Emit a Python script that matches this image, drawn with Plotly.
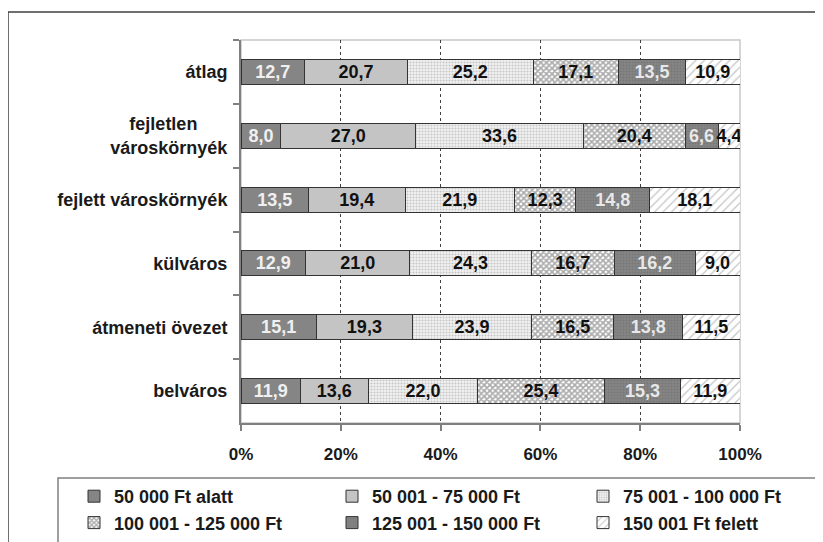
import plotly.graph_objects as go

categories = ["átlag", "fejletlen&nbsp;&nbsp;&nbsp;&nbsp;&nbsp;&nbsp;<br>városkörnyék", "fejlett városkörnyék",
              "külváros", "átmeneti övezet", "belváros"]
series_names = ["50 000 Ft alatt", "50 001 - 75 000 Ft", "75 001 - 100 000 Ft",
                "100 001 - 125 000 Ft", "125 001 - 150 000 Ft", "150 001 Ft felett"]

s1 = [12.7, 8.0, 13.5, 12.9, 15.1, 11.9]
s2 = [20.7, 27.0, 19.4, 21.0, 19.3, 13.6]
s3 = [25.2, 33.6, 21.9, 24.3, 23.9, 22.0]
s4 = [17.1, 20.4, 12.3, 16.7, 16.5, 25.4]
s5 = [13.5, 6.6, 14.8, 16.2, 13.8, 15.3]
s6 = [10.9, 4.4, 18.1, 9.0, 11.5, 11.9]
series_values = [s1, s2, s3, s4, s5, s6]

x_tickvals = [0, 20, 40, 60, 80, 100]
x_ticktext = ["0%", "20%", "40%", "60%", "80%", "100%"]
grid_ticks = [20, 40, 60, 80]

styles = [
    dict(color="#858585", pattern=dict(shape=""), text="#f0f0f0"),
    dict(color="#c4c4c4", pattern=dict(shape=""), text="#111111"),
    dict(color="#f2f2f2", pattern=dict(shape=".", fgcolor="#9a9a9a", size=3, solidity=0.4), text="#111111"),
    dict(color="#ffffff", pattern=dict(shape="x", fgcolor="#555555", size=4, solidity=0.65), text="#111111"),
    dict(color="#858585", pattern=dict(shape=".", fgcolor="#6a6a6a", size=3, solidity=0.4), text="#e8e8e8"),
    dict(color="#ffffff", pattern=dict(shape="/", fgcolor="#909090", size=6, solidity=0.22), text="#111111"),
]
legend_ids = ["legend", "legend2", "legend3", "legend", "legend2", "legend3"]

FONT = "Liberation Sans, Arial, sans-serif"
OFF = 8  # page body margin

fig = go.Figure()
for name, vals, st, lg in zip(series_names, series_values, styles, legend_ids):
    fig.add_trace(go.Bar(
        y=categories, x=vals, name=name, orientation="h",
        legend=lg, legendgroup=name,
        text=vals, texttemplate="%{text:.1f}", textposition="inside",
        insidetextanchor="middle", textangle=0,
        textfont=dict(family=FONT, size=18, color=st["text"], weight="bold"),
        marker=dict(color=st["color"], pattern=st["pattern"],
                    line=dict(color="#333333", width=1)),
        xaxis="x", yaxis="y",
    ))

# invisible trace on an overlay axis that carries the dashed gridlines
fig.add_trace(go.Scatter(x=[0, 100], y=[categories[0], categories[0]], mode="markers",
                         marker=dict(opacity=0), showlegend=False, hoverinfo="skip",
                         xaxis="x2", yaxis="y"))

W, H = 823, 542
L, R, T, B = 241, 740, 40, 423   # plot area in screen pixels
pw, ph = R - L, B - T


def px(xp):
    return (xp - L) / pw


def py(yp):
    return (B - yp) / ph


legend_font = dict(family=FONT, size=18, color="#1a1a1a", weight="bold")


def legend_at(text_x, top_y):
    return dict(orientation="v", x=px(text_x - 41), y=py(top_y), xanchor="left", yanchor="top",
                itemwidth=30, tracegroupgap=1, traceorder="normal",
                bgcolor="rgba(0,0,0,0)", borderwidth=0, font=legend_font)


fig.update_layout(
    width=W, height=H,
    margin=dict(l=L - OFF, r=W - R + OFF, t=T - OFF, b=H - B + OFF, autoexpand=False),
    paper_bgcolor="white", plot_bgcolor="white",
    barmode="stack", barnorm="percent", bargap=0.61,
    separators=",.",
    font=dict(family=FONT, size=18, color="#1a1a1a", weight="bold"),
    uniformtext=dict(minsize=18, mode="show"),
    xaxis=dict(range=[0, 100], tickvals=x_tickvals, ticktext=x_ticktext, showgrid=False,
               ticks="outside", ticklen=6, tickcolor="#808080", tickwidth=1.5,
               showline=True, linecolor="#808080", linewidth=2,
               zeroline=False, ticklabelstandoff=9,
               tickfont=dict(family=FONT, size=17, color="#1a1a1a", weight="bold")),
    xaxis2=dict(range=[0, 100], overlaying="x", tickvals=grid_ticks, showgrid=True,
                gridcolor="#404040", griddash="3px,3px", gridwidth=1,
                showticklabels=False, ticks="", showline=False, zeroline=False),
    yaxis=dict(autorange="reversed", type="category", tickson="boundaries",
               ticks="outside", ticklen=6, tickcolor="#808080", tickwidth=1.5,
               showline=True, linecolor="#808080", linewidth=2, showgrid=False,
               ticklabelstandoff=8,
               tickfont=dict(family=FONT, size=18, color="#1a1a1a", weight="bold")),
    legend=legend_at(115, 478),
    legend2=legend_at(373, 478),
    legend3=legend_at(624, 478),
    showlegend=True,
    shapes=[
        dict(type="rect", xref="paper", yref="paper", x0=px(8), x1=px(900), y0=py(12), y1=py(620),
             line=dict(color="#404040", width=1.5), layer="below"),
        dict(type="rect", xref="paper", yref="paper", x0=0, x1=1, y0=0, y1=1,
             line=dict(color="#c8c8c8", width=1.5), layer="below"),
        dict(type="rect", xref="paper", yref="paper", x0=px(58), x1=px(900), y0=py(478), y1=py(620),
             line=dict(color="#808080", width=1.5), layer="below"),
    ],
)

fig.write_html("out.html")
